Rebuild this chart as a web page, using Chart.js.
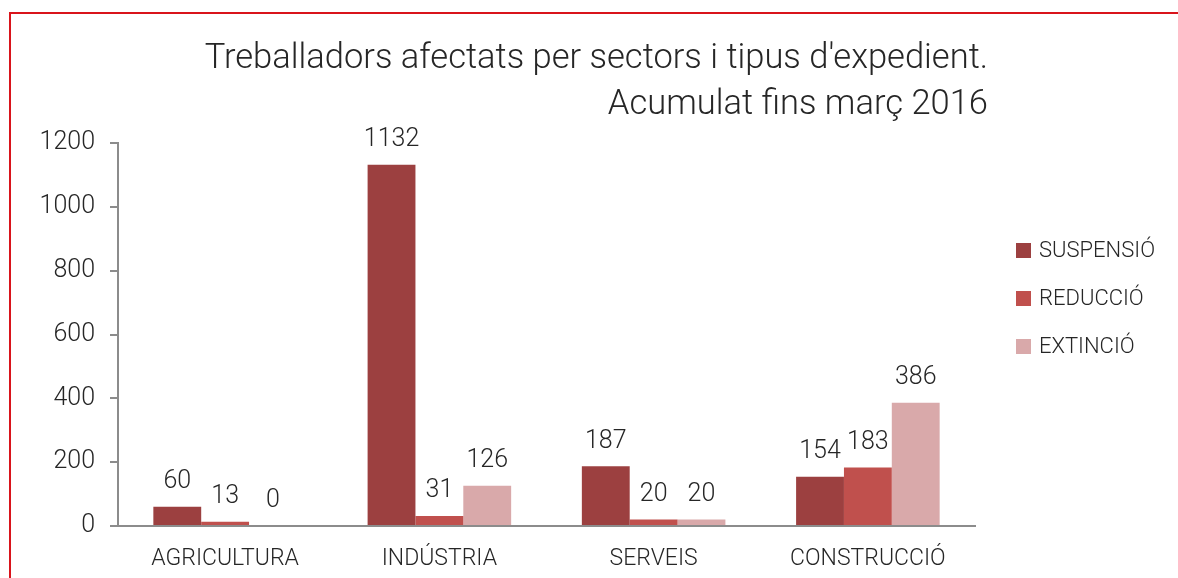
<!DOCTYPE html>
<html>
<head>
<meta charset="utf-8">
<script src="https://cdn.jsdelivr.net/npm/chart.js@4"></script>
<style>
html,body{margin:0;padding:0;background:#fff;}
#wrap{position:relative;width:1178px;height:578px;overflow:hidden;background:#fff;font-family:Roboto,"Noto Sans",sans-serif;font-weight:300;color:#262626;}
#frame{position:absolute;left:9px;top:12px;right:-5px;bottom:-5px;border-top:2px solid #d9141b;border-left:2px solid #d9141b;}
#title{position:absolute;right:190px;top:33px;text-align:right;font-size:34.5px;line-height:46px;white-space:nowrap;}
#legend{position:absolute;left:1016px;top:237px;}
.li{height:48px;display:flex;align-items:flex-start;font-size:22px;line-height:26px;}
.sw{width:15px;height:15px;margin-top:6px;margin-right:8px;}
canvas{position:absolute;left:0;top:0;}
</style>
</head>
<body>
<div id="wrap">
  <div id="frame"></div>
  <canvas id="c" width="1178" height="578"></canvas>
  <div id="title">Treballadors afectats per sectors i tipus d'expedient.<br>Acumulat fins març 2016</div>
  <div id="legend"></div>
</div>
<script>
const categories = ["AGRICULTURA", "INDÚSTRIA", "SERVEIS", "CONSTRUCCIÓ"];
const seriesNames = ["SUSPENSIÓ", "REDUCCIÓ", "EXTINCIÓ"];
const suspensio = [60, 1132, 187, 154];
const reduccio = [13, 31, 20, 183];
const extincio = [0, 126, 20, 386];
const seriesColors = ["#9c4040", "#c0504d", "#d9a9aa"];
const yTicks = [0, 200, 400, 600, 800, 1000, 1200];

const seriesValues = [suspensio, reduccio, extincio];
const datasets = seriesNames.map((n, i) => ({
  label: n,
  data: seriesValues[i],
  backgroundColor: seriesColors[i],
  borderWidth: 0,
  barPercentage: 1,
  categoryPercentage: 0.67
}));

const FONT = "Roboto, 'Noto Sans', sans-serif";

const valueLabels = {
  id: 'valueLabels',
  afterDatasetsDraw(chart) {
    const ctx = chart.ctx;
    ctx.save();
    ctx.font = "300 25px " + FONT;
    ctx.fillStyle = "#262626";
    ctx.textAlign = "center";
    ctx.textBaseline = "middle";
    chart.data.datasets.forEach((ds, di) => {
      const meta = chart.getDatasetMeta(di);
      meta.data.forEach((el, i) => {
        ctx.fillText(String(ds.data[i]), el.x, el.y - 25);
      });
    });
    ctx.restore();
  }
};

new Chart(document.getElementById('c'), {
  type: 'bar',
  data: { labels: categories, datasets },
  options: {
    responsive: false,
    animation: false,
    layout: { padding: { left: 18, right: 203, top: 143, bottom: 0 } },
    plugins: { legend: { display: false }, title: { display: false }, tooltip: { enabled: false } },
    scales: {
      x: {
        grid: { display: false },
        border: { display: true, color: '#8c8c8c', width: 2 },
        ticks: { color: '#262626', font: { family: FONT, size: 23, weight: 300 }, padding: 11, maxRotation: 0 },
        afterFit(s) { s.height = 52; }
      },
      y: {
        min: 0, max: 1200,
        afterBuildTicks(s) { s.ticks = yTicks.map(v => ({ value: v })); },
        grid: { display: true, drawOnChartArea: false, tickLength: 8, color: '#8c8c8c', lineWidth: 2 },
        border: { display: true, color: '#8c8c8c', width: 2 },
        ticks: { color: '#262626', font: { family: FONT, size: 25, weight: 300 }, padding: 15, callback: v => String(v) },
        afterFit(s) { s.width = 100; }
      }
    }
  },
  plugins: [valueLabels]
});

const lg = document.getElementById('legend');
seriesNames.forEach((n, i) => {
  const d = document.createElement('div');
  d.className = 'li';
  d.innerHTML = '<div class="sw" style="background:' + seriesColors[i] + '"></div><span>' + n + '</span>';
  lg.appendChild(d);
});
</script>
</body>
</html>
